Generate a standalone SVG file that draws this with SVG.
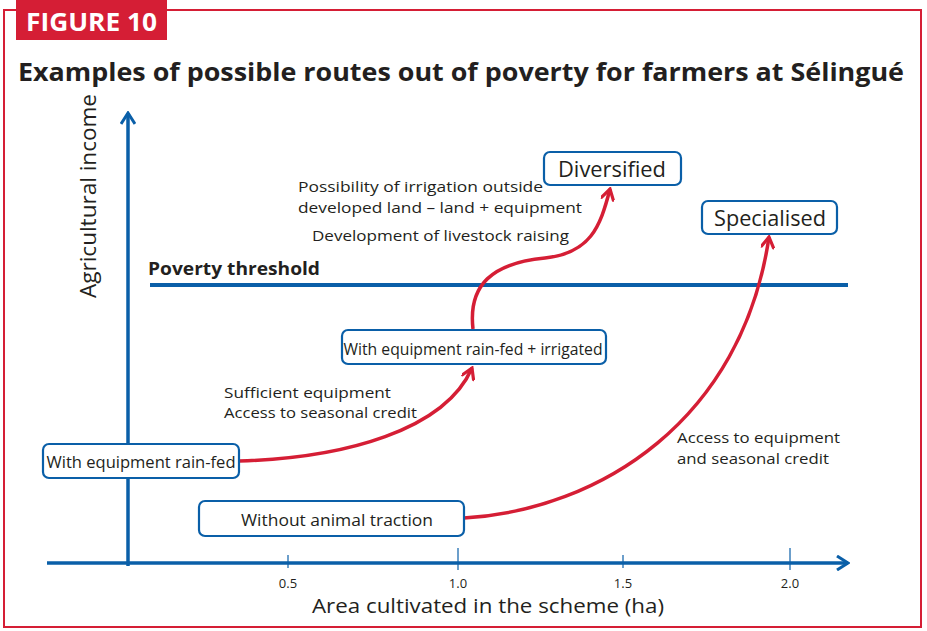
<svg xmlns="http://www.w3.org/2000/svg" width="927" height="631" viewBox="0 0 927 631">
<defs>
<style>
.t{font-family:"Open Sans","Liberation Sans",sans-serif;fill:#231f20}
.box{fill:#fff;stroke:#0a5fa8;stroke-width:2.2}
.ax{stroke:#0a5fa8;fill:none}
.red{stroke:#d51e35;stroke-width:3.5;fill:none}
</style>
<marker id="ah" viewBox="0 0 14 14" refX="12" refY="7" markerWidth="14" markerHeight="14" markerUnits="userSpaceOnUse" orient="auto">
<path d="M2,1 L12,7 L2,13" fill="none" stroke="#d51e35" stroke-width="3.2" stroke-linecap="round"/>
</marker>
<marker id="ahb" viewBox="0 0 16 16" refX="14" refY="8" markerWidth="16" markerHeight="16" markerUnits="userSpaceOnUse" orient="auto">
<path d="M3,1 L14,8 L3,15" fill="none" stroke="#0a5fa8" stroke-width="3"/>
</marker>
</defs>
<rect width="927" height="631" fill="#fff"/>
<rect x="4" y="10" width="917" height="617" fill="none" stroke="#d51e35" stroke-width="2"/>
<rect x="16" y="0" width="151" height="40" fill="#d51e35"/>
<text x="26" y="31" class="t" style="fill:#fff;font-weight:bold;font-size:25px" textLength="131" lengthAdjust="spacingAndGlyphs">FIGURE 10</text>
<text x="18" y="81" class="t" style="font-weight:bold;font-size:25px" textLength="886" lengthAdjust="spacingAndGlyphs">Examples of possible routes out of poverty for farmers at Sélingué</text>

<g id="axes">
<line x1="128" y1="566" x2="128" y2="113" class="ax" stroke-width="3.5" marker-end="url(#ahb)"/>
<line x1="47" y1="563" x2="848" y2="563" class="ax" stroke-width="3.5" marker-end="url(#ahb)"/>
<line x1="288" y1="555" x2="288" y2="568" class="ax" stroke-width="1.2"/>
<line x1="458" y1="548" x2="458" y2="570" class="ax" stroke-width="1.2"/>
<line x1="623" y1="555" x2="623" y2="568" class="ax" stroke-width="1.2"/>
<line x1="790" y1="548" x2="790" y2="570" class="ax" stroke-width="1.2"/>
<g class="t" style="font-size:13px" text-anchor="middle">
<text x="288" y="588">0.5</text>
<text x="458" y="588">1.0</text>
<text x="623" y="588">1.5</text>
<text x="790" y="588">2.0</text>
</g>
<text x="488" y="613" class="t" style="font-size:20px" text-anchor="middle" textLength="352" lengthAdjust="spacingAndGlyphs">Area cultivated in the scheme (ha)</text>
<text transform="translate(96,196) rotate(-90)" class="t" style="font-size:21px" text-anchor="middle" textLength="204" lengthAdjust="spacingAndGlyphs">Agricultural income</text>
</g>

<g id="threshold">
<line x1="150" y1="285" x2="848" y2="285" class="ax" stroke-width="4"/>
<text x="148" y="275" class="t" style="font-weight:bold;font-size:17px" textLength="172" lengthAdjust="spacingAndGlyphs">Poverty threshold</text>
</g>

<g id="connectors">
<path d="M239,461 C345,458 445,430 472,368" class="red" marker-end="url(#ah)"/>
<path d="M473,329 C468,285 492,263 545,258 C590,253 600,228 610,189" class="red" marker-end="url(#ah)"/>
<path d="M464,518 C600,510 742,420 769,237" class="red" marker-end="url(#ah)"/>
</g>

<g id="labels" class="t" style="font-size:15px">
<text x="298" y="192" textLength="245" lengthAdjust="spacingAndGlyphs">Possibility of irrigation outside</text>
<text x="298" y="213" textLength="284" lengthAdjust="spacingAndGlyphs">developed land – land + equipment</text>
<text x="312" y="241" textLength="257" lengthAdjust="spacingAndGlyphs">Development of livestock raising</text>
<text x="224" y="398" textLength="167" lengthAdjust="spacingAndGlyphs">Sufficient equipment</text>
<text x="224" y="418" textLength="193" lengthAdjust="spacingAndGlyphs">Access to seasonal credit</text>
<text x="677" y="443" textLength="163" lengthAdjust="spacingAndGlyphs">Access to equipment</text>
<text x="677" y="464" textLength="152" lengthAdjust="spacingAndGlyphs">and seasonal credit</text>
</g>

<g id="node-diversified">
<rect x="544" y="152" width="137" height="33" rx="6" class="box"/>
<text x="612" y="177" class="t" style="font-size:21px" text-anchor="middle" textLength="108" lengthAdjust="spacingAndGlyphs">Diversified</text>
</g>
<g id="node-specialised">
<rect x="702" y="201" width="135" height="33" rx="6" class="box"/>
<text x="770" y="226" class="t" style="font-size:21px" text-anchor="middle" textLength="112" lengthAdjust="spacingAndGlyphs">Specialised</text>
</g>
<g id="node-irrigated">
<rect x="342" y="330" width="264" height="34" rx="6" class="box"/>
<text x="473" y="355" class="t" style="font-size:16px" text-anchor="middle" textLength="259" lengthAdjust="spacingAndGlyphs">With equipment rain-fed + irrigated</text>
</g>
<g id="node-rainfed">
<rect x="43" y="444" width="196" height="34" rx="6" class="box"/>
<text x="141" y="468" class="t" style="font-size:16px" text-anchor="middle" textLength="189" lengthAdjust="spacingAndGlyphs">With equipment rain-fed</text>
</g>
<g id="node-without">
<rect x="199" y="501" width="265" height="35" rx="6" class="box"/>
<text x="337" y="526" class="t" style="font-size:17px" text-anchor="middle" textLength="192" lengthAdjust="spacingAndGlyphs">Without animal traction</text>
</g>
</svg>
